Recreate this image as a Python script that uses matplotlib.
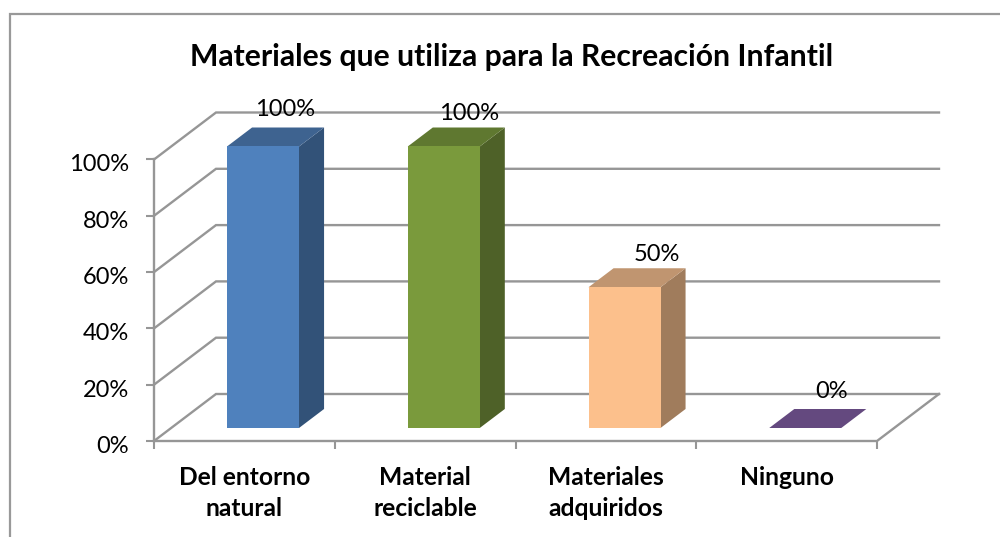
import matplotlib
matplotlib.use('Agg')
import matplotlib.pyplot as plt
from matplotlib.patches import Polygon, Rectangle
from matplotlib.transforms import ScaledTranslation

plt.rcParams['font.family'] = ['Lato', 'DejaVu Sans']

TITLE = 'Materiales que utiliza para la Recreación Infantil'
categories = ['Del entorno\nnatural', 'Material\nreciclable', 'Materiales\nadquiridos', 'Ninguno']
values = [100, 100, 50, 0]
value_labels = ['100%', '100%', '50%', '0%']
y_ticks = [0, 20, 40, 60, 80, 100]

front_colors = ['#4f81bd', '#7a9a3c', '#fcc08c', '#64497f']
top_colors = ['#3e6390', '#5f7830', '#c09570', '#64497f']
side_colors = ['#325278', '#4e6128', '#a07c5c', '#64497f']
# the value labels are not placed evenly in the original, offsets in pixels
label_offsets = [(-3, 18), (0, 14), (7, 14), (1, 18)]
GRID = '#969696'

W, H = 1000, 537
# oblique depth of the floor, in data units (categories / percent)
DEPTH_X = 62 / 180.75
DEPTH_Y = 47 / 2.815
BAR_W = 72 / 180.75
BAR_START = 73 / 180.75
BAR_NEAR = 13 / 47
BAR_DEPTH = 19 / 47

fig = plt.figure(figsize=(W / 100, H / 100), dpi=100)
ax = fig.add_axes([154 / W, 1 - 441 / H, (877 - 154) / W, (441 - 159.5) / H])
ax.set_xlim(0, 4)
ax.set_ylim(0, 100)
ax.patch.set_visible(False)
for s in ax.spines.values():
    s.set_visible(False)

# chart frame, runs off the right and bottom of the image
frame = Rectangle((9.5 / W, 1 - 560 / H), 1020 / W, (560 - 13.5) / H, transform=fig.transFigure,
                  fill=False, edgecolor='#999999', linewidth=1.6)
fig.add_artist(frame)

lw = 1.7
for v in y_ticks:
    ax.plot([0, DEPTH_X, 4 + DEPTH_X], [v, v + DEPTH_Y, v + DEPTH_Y], color=GRID, lw=lw, clip_on=False, zorder=1,
            solid_joinstyle='miter')
ax.plot([0, 0], [0, 100], color=GRID, lw=lw, clip_on=False, zorder=1)
ax.plot([0, 4, 4 + DEPTH_X], [0, 0, DEPTH_Y], color=GRID, lw=lw, clip_on=False, zorder=1)

for i, v in enumerate(values):
    x0 = i + BAR_START
    x1 = x0 + BAR_W
    y0 = DEPTH_Y * BAR_NEAR
    dx = DEPTH_X * BAR_DEPTH
    dy = DEPTH_Y * BAR_DEPTH
    top = y0 + v
    if v > 0:
        ax.add_patch(Polygon([(x1, y0), (x1 + dx, y0 + dy), (x1 + dx, top + dy), (x1, top)],
                             fc=side_colors[i], ec='none', clip_on=False, zorder=3))
        ax.add_patch(Polygon([(x0, top), (x0 + dx, top + dy), (x1 + dx, top + dy), (x1, top)],
                             fc=top_colors[i], ec='none', clip_on=False, zorder=3))
        ax.add_patch(Rectangle((x0, y0), BAR_W, v, fc=front_colors[i], ec='none', clip_on=False, zorder=4))
    else:
        ax.add_patch(Polygon([(x0, y0), (x0 + dx, y0 + dy), (x1 + dx, y0 + dy), (x1, y0)],
                             fc=top_colors[i], ec='none', clip_on=False, zorder=3))
    ax.annotate(value_labels[i], (x0 + BAR_W / 2 + dx, top + dy), xytext=label_offsets[i],
                textcoords='offset pixels', ha='center', va='center', fontsize=17, color='black', zorder=5,
                annotation_clip=False)

ax.set_yticks(y_ticks)
ax.set_yticklabels([f'{v}%' for v in y_ticks], fontsize=17)
ax.set_xticks(range(5))
ax.set_xticklabels([])
ax.tick_params(axis='both', color=GRID, width=1.5, length=6)
ax.tick_params(axis='y', pad=12)
# tick labels sit a little below their ticks in the original
for lab in ax.get_yticklabels():
    lab.set_transform(lab.get_transform() + ScaledTranslation(0, -2.5 / 72, fig.dpi_scale_trans))

for i, name in enumerate(categories):
    ax.annotate(name, (i + 0.5, 0), xytext=(0, -25), textcoords='offset pixels', ha='center', va='top',
                fontsize=17.7, fontweight='bold', linespacing=1.43, annotation_clip=False)

fig.text(512 / W, 1 - 57 / H, TITLE, ha='center', va='center', fontsize=21.7, fontweight='bold')

fig.savefig('out.png', dpi=100)
